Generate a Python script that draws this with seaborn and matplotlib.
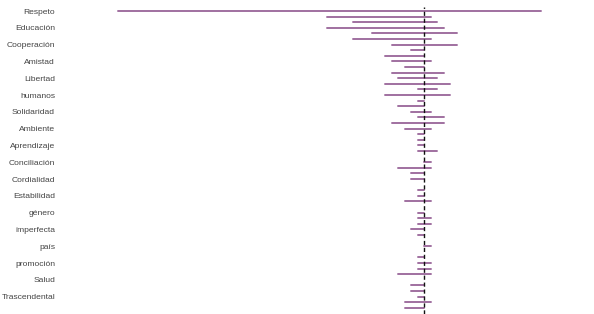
import numpy as np
import pandas as pd
import matplotlib
matplotlib.use("Agg")
import matplotlib.pyplot as plt
import seaborn as sns

# Visible tick labels (one every third row)
labels = ["Respeto", "Educación", "Cooperación", "Amistad", "Libertad", "humanos",
          "Solidaridad", "Ambiente", "Aprendizaje", "Conciliación", "Cordialidad",
          "Estabilidad", "género", "imperfecta", "país", "promoción", "Salud",
          "Trascendental"]

# Interval start / end for each of the 54 rows (top to bottom)
start = [-47, -15, -11, -15, -8, -11, -5, -2, -6, -5,
         -3, -5, -4, -6, -1, -6, -1, -4, -2, -1,
         -5, -3, -1, -1, -1, -1, 0, 0, -4, -2,
         -2, 0, -1, -1, -3, 0, -1, -1, -1, -2,
         -1, 0, 0, 0, -1, -1, -1, -4, 0, -2,
         -2, -1, -3, -3]
end = [18, 1, 2, 3, 5, 1, 5, 0, 0, 1,
       0, 3, 2, 4, 2, 4, 0, 0, 1, 3,
       3, 1, 0, 0, 0, 2, 0, 1, 1, 0,
       0, 0, 0, 0, 1, 0, 0, 1, 1, 0,
       0, 0, 1, 0, 0, 1, 1, 1, 0, 0,
       0, 0, 1, 0]

rows = np.arange(len(start))
df = pd.DataFrame({
    "row": np.concatenate([rows, rows]),
    "value": np.concatenate([start, end]),
})

sns.set_theme(style="white")
plt.rcParams["font.family"] = ["Liberation Sans", "DejaVu Sans"]

fig = plt.figure(figsize=(5.94, 3.14), dpi=100)
ax = fig.add_axes([62 / 594, 0, (590 - 62) / 594, 1])

sns.lineplot(data=df, x="value", y="row", units="row", estimator=None,
             color="#a070a0", linewidth=1.4, ax=ax, legend=False)

ax.axvline(0, ymin=0, ymax=(314 - 7) / 314, color="#111111",
           linestyle=(0, (3.0, 2.0)), linewidth=1.0)

ax.set_xlim((62 - 424.3) / 6.51, (590 - 424.3) / 6.51)
ax.set_ylim((314 - 11) / 5.6, -11 / 5.6)
ax.set_yticks(rows[::3])
ax.set_yticklabels(labels, fontsize=6.1, color="#444444")
ax.set_xticks([])
ax.set_xlabel("")
ax.set_ylabel("")
ax.tick_params(axis="y", length=0, pad=5)
for s in ax.spines.values():
    s.set_visible(False)

fig.savefig("out.png", dpi=100)
